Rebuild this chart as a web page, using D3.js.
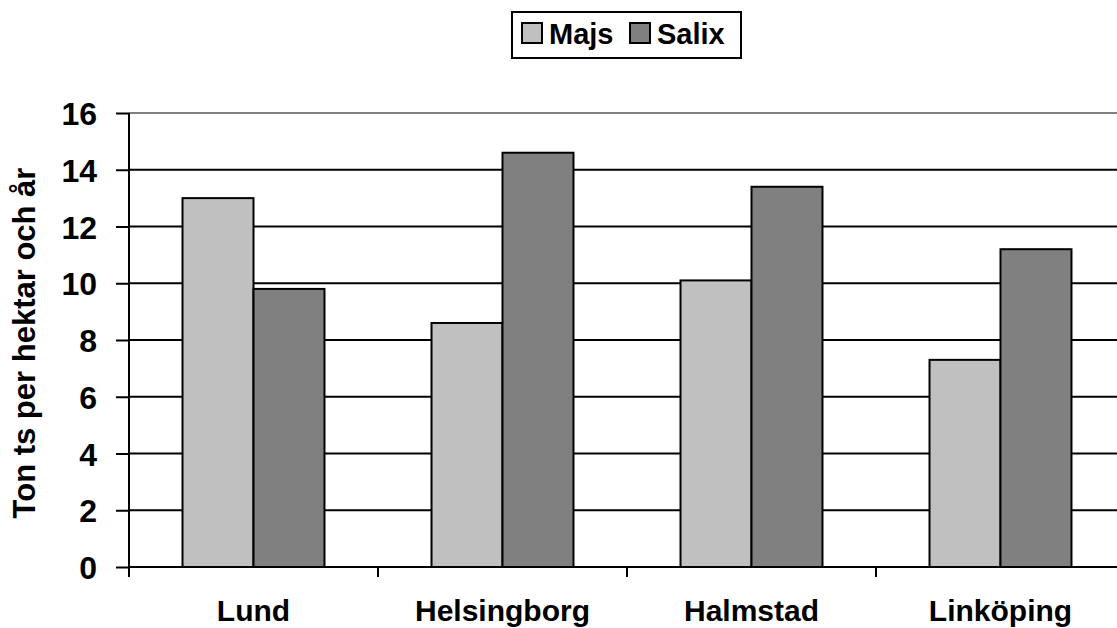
<!DOCTYPE html>
<html><head><meta charset="utf-8">
<script src="https://cdn.jsdelivr.net/npm/d3@7"></script>
<style>body{margin:0;background:#fff}svg{display:block}text{font-family:"Liberation Sans",Arial,sans-serif;font-weight:bold;fill:#000}</style>
</head><body><svg id="c" width="1117" height="628"></svg>
<script>
const categories = ["Lund","Helsingborg","Halmstad","Linköping"];
const seriesNames = ["Majs","Salix"];
const majs = [13.0, 8.6, 10.1, 7.3];
const salix = [9.8, 14.6, 13.4, 11.2];
const yTicks = [0,2,4,6,8,10,12,14,16];
const colors = ["#c0c0c0","#808080"];
const yLabel = "Ton ts per hektar och år";

(function(){
const svg = d3.select("#c");
const pL = 129, pR = 1125, pT = 113, pB = 567;
const x = d3.scaleBand().domain(categories).range([pL,pR]).padding(0);
const x1 = d3.scaleBand().domain(seriesNames).range([0,x.bandwidth()]).paddingInner(0).paddingOuter(0.754);
const y = d3.scaleLinear().domain([0,16]).range([pB,pT]);

// gridlines
svg.append("g").selectAll("line").data(yTicks.filter(t=>t>0)).join("line")
  .attr("x1",pL).attr("x2",pR).attr("y1",d=>y(d)).attr("y2",d=>y(d))
  .attr("stroke",d=>d===16?"#808080":"#000").attr("stroke-width",2);

// bars
const data = categories.map((c,i)=>({c, vals:[majs[i],salix[i]]}));
const g = svg.append("g").selectAll("g").data(data).join("g").attr("transform",d=>`translate(${x(d.c)},0)`);
g.selectAll("rect").data(d=>d.vals.map((v,j)=>({s:seriesNames[j],v,j}))).join("rect")
  .attr("x",d=>x1(d.s)).attr("width",x1.bandwidth())
  .attr("y",d=>y(d.v)).attr("height",d=>y(0)-y(d.v))
  .attr("fill",d=>colors[d.j]).attr("stroke","#000").attr("stroke-width",2);

// y axis
const ya = svg.append("g").attr("transform",`translate(${pL},0)`)
  .call(d3.axisLeft(y).tickValues(yTicks).tickSize(13).tickPadding(19).tickFormat(d3.format("d")));
ya.select(".domain").attr("stroke","#000").attr("stroke-width",2).attr("d",`M0,${pT}V${pB}`);
ya.selectAll(".tick line").attr("stroke","#000").attr("stroke-width",2);
ya.selectAll(".tick text").style("font-size","32px").style("font-family","Liberation Sans, Arial, sans-serif").style("font-weight","bold").attr("dy","0.36em");

// x axis
const xa = svg.append("g").attr("transform",`translate(0,${pB})`)
  .call(d3.axisBottom(x).tickSize(0).tickPadding(33));
xa.select(".domain").attr("stroke","#000").attr("stroke-width",2).attr("d",`M${pL},0H${pR}`);
xa.selectAll(".tick text").style("font-size","30px").style("font-family","Liberation Sans, Arial, sans-serif").style("font-weight","bold");
const bounds = categories.map(c=>x(c)).concat([pR]);
xa.append("g").selectAll("line").data(bounds).join("line")
  .attr("x1",d=>d).attr("x2",d=>d).attr("y1",0).attr("y2",10).attr("stroke","#000").attr("stroke-width",2);

// y label
svg.append("text").attr("transform",`translate(35,${(pT+pB)/2 + 3}) rotate(-90)`)
  .attr("text-anchor","middle").style("font-size","31px").text(yLabel);

// legend
const lg = svg.append("g");
lg.append("rect").attr("x",512).attr("y",12).attr("width",229).attr("height",46).attr("fill","#fff").attr("stroke","#000").attr("stroke-width",2);
const lx = [522,630];
seriesNames.forEach((s,i)=>{
  lg.append("rect").attr("x",lx[i]).attr("y",23).attr("width",20).attr("height",20).attr("fill",colors[i]).attr("stroke","#000").attr("stroke-width",2);
  lg.append("text").attr("x",lx[i]+27).attr("y",44).style("font-size","29px").text(s);
});
})();
</script></body></html>
